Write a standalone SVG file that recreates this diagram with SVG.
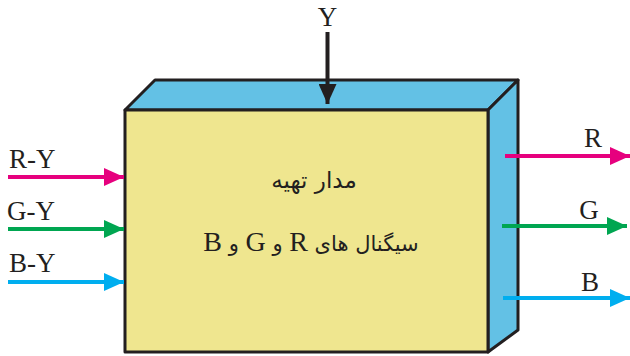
<svg xmlns="http://www.w3.org/2000/svg" width="630" height="356" viewBox="0 0 630 356">
<style>
.face{stroke:#231f20;stroke-width:3;stroke-linejoin:round}
.lbl{font-family:"Liberation Serif","Times New Roman",serif;font-size:27px;fill:#231f20}
.fa{font-family:"DejaVu Sans",sans-serif;fill:#231f20}
.lat{font-family:"Liberation Serif",serif;font-size:28px}
</style>
<defs>
<marker id="hk" markerUnits="userSpaceOnUse" markerWidth="22" markerHeight="18" refX="20" refY="9" orient="auto"><path d="M0,0 L20,9 L0,18 Z" fill="#231f20"/></marker>
<marker id="hm" markerUnits="userSpaceOnUse" markerWidth="22" markerHeight="18" refX="20" refY="9" orient="auto"><path d="M0,0 L20,9 L0,18 Z" fill="#e6007e"/></marker>
<marker id="hg" markerUnits="userSpaceOnUse" markerWidth="22" markerHeight="18" refX="20" refY="9" orient="auto"><path d="M0,0 L20,9 L0,18 Z" fill="#00a651"/></marker>
<marker id="hc" markerUnits="userSpaceOnUse" markerWidth="22" markerHeight="18" refX="20" refY="9" orient="auto"><path d="M0,0 L20,9 L0,18 Z" fill="#00aeef"/></marker>
</defs>
<g id="box">
<polygon class="face" fill="#63c1e5" points="125,110 155,80 518,80 488,110"/>
<polygon class="face" fill="#63c1e5" points="488,110 518,80 518,330 488,352"/>
<rect class="face" fill="#efe68f" x="125" y="110" width="363" height="242"/>
<text class="fa" x="314" y="188" font-size="23" text-anchor="middle" direction="rtl">مدار تهیه</text>
<text class="fa" x="311" y="251" font-size="21" text-anchor="middle" direction="rtl">سیگنال های <tspan class="lat">R</tspan> و <tspan class="lat">G</tspan> و <tspan class="lat">B</tspan></text>
</g>
<g id="connectors" stroke-width="4" fill="none">
<line x1="327.5" y1="32" x2="327.5" y2="104" stroke="#231f20" marker-end="url(#hk)"/>
<line x1="8" y1="177" x2="124" y2="177" stroke="#e6007e" marker-end="url(#hm)"/>
<line x1="8" y1="229" x2="124" y2="229" stroke="#00a651" marker-end="url(#hg)"/>
<line x1="8" y1="282" x2="124" y2="282" stroke="#00aeef" marker-end="url(#hc)"/>
<line x1="505" y1="156" x2="630" y2="156" stroke="#e6007e" marker-end="url(#hm)"/>
<line x1="502" y1="226" x2="627" y2="226" stroke="#00a651" marker-end="url(#hg)"/>
<line x1="503" y1="298" x2="630" y2="298" stroke="#00aeef" marker-end="url(#hc)"/>
</g>
<g id="labels">
<text class="lbl" x="327.5" y="26" text-anchor="middle">Y</text>
<text class="lbl" x="9" y="168">R-Y</text>
<text class="lbl" x="7" y="220">G-Y</text>
<text class="lbl" x="9" y="272">B-Y</text>
<text class="lbl" x="593" y="147" text-anchor="middle">R</text>
<text class="lbl" x="589" y="219" text-anchor="middle">G</text>
<text class="lbl" x="590" y="291" text-anchor="middle">B</text>
</g>
</svg>
